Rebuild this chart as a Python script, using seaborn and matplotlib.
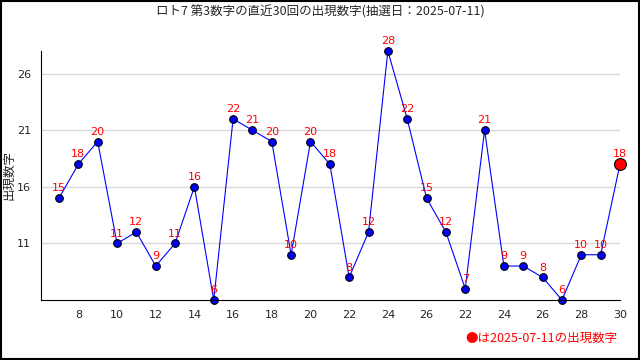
import numpy as np
import pandas as pd
import matplotlib
matplotlib.use('Agg')
import matplotlib.pyplot as plt
import seaborn as sns
from matplotlib.patches import Rectangle

draw_values = [15, 18, 20, 11, 12, 9, 11, 16, 6, 22, 21, 20, 10, 20, 18,
               8, 12, 28, 22, 15, 12, 7, 21, 9, 9, 8, 6, 10, 10, 18]
tick_labels = ['8', '10', '12', '14', '16', '18', '20', '22', '24', '26',
               '22', '24', '26', '28', '30']
y_ticks = [11, 16, 21, 26]

sns.set_style('white')
plt.rcParams['font.family'] = ['Noto Sans CJK JP', 'DejaVu Sans']

df = pd.DataFrame({'pos': np.arange(len(draw_values)), 'num': draw_values})

fig = plt.figure(figsize=(6.4, 3.6), dpi=100)
ax = fig.add_axes([41 / 640, 1 - 300 / 360, 579 / 640, 249 / 360])

for y in y_ticks:
    ax.axhline(y, color='#d8d8d8', linewidth=1, zorder=0)

sns.lineplot(data=df, x='pos', y='num', ax=ax, color='blue', linewidth=0.8,
             marker='o', markersize=5.5, markerfacecolor='blue',
             markeredgecolor='black', markeredgewidth=0.8, clip_on=False)

# latest draw highlighted in red
last = df.iloc[-1]
ax.plot(last['pos'], last['num'], 'o', markersize=8.5, color='red',
        markeredgecolor='black', markeredgewidth=0.8, clip_on=False, zorder=5)

for p, v in zip(df['pos'], df['num']):
    ax.annotate(str(v), (p, v), xytext=(0, 3.5), textcoords='offset points',
                ha='center', va='bottom', color='red', fontsize=8,
                family='DejaVu Sans')

ax.set_xlim(-0.93, 29)
ax.set_ylim(6, 28)
ax.set_xticks(np.arange(1, len(draw_values), 2))
ax.set_xticklabels(tick_labels)
ax.set_xticks(np.arange(len(draw_values)), minor=True)
ax.set_yticks(y_ticks)
ax.set_yticks(np.arange(6, 29), minor=True)
ax.tick_params(axis='both', which='major', direction='in', length=5,
               width=0.8, labelsize=8, pad=7)
ax.tick_params(axis='both', which='minor', direction='in', length=3, width=0.8)
for lab in ax.get_xticklabels() + ax.get_yticklabels():
    lab.set_family('DejaVu Sans')

for s in ['top', 'right']:
    ax.spines[s].set_visible(False)
for s in ['left', 'bottom']:
    ax.spines[s].set_linewidth(0.8)
    ax.spines[s].set_color('black')

ax.set_xlabel('')
ax.set_ylabel('')
fig.text(9 / 640, 1 - 175 / 360, '出現数字', rotation=90, ha='center',
         va='center', fontsize=9)

fig.text(0.5, 1 - 12 / 360, 'ロト7 第3数字の直近30回の出現数字(抽選日：2025-07-11)',
         ha='center', va='center', fontsize=9)
fig.text(618 / 640, 1 - 338 / 360, '●は2025-07-11の出現数字', ha='right',
         va='center', fontsize=9, color='red')

fig.patches.append(Rectangle((0.001, 0.002), 0.997, 0.996,
                             transform=fig.transFigure, fill=False,
                             edgecolor='black', linewidth=1.5))

fig.savefig('out.png', dpi=100)
